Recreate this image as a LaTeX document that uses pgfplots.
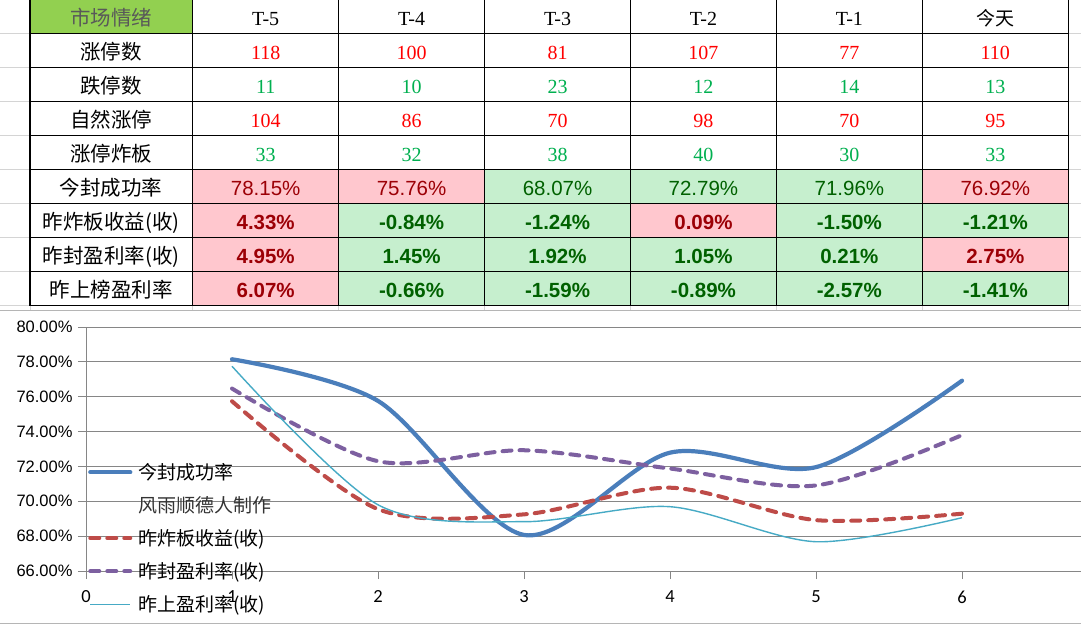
\documentclass[border=0pt]{standalone}
\usepackage{pgfplots}
\pgfplotsset{compat=1.18}
\usepackage{fontspec}
\setmainfont{Liberation Sans}
\newfontfamily\cjk{Noto Sans CJK SC}
\newfontfamily\serifn{Liberation Serif}
\newfontfamily\arial{Liberation Sans}
\newfontfamily\carlito{Carlito}
\definecolor{hdrgreen}{HTML}{92D050}
\definecolor{hdrtext}{HTML}{595959}
\definecolor{numred}{HTML}{FF0000}
\definecolor{numgreen}{HTML}{00B050}
\definecolor{pF}{HTML}{FFC7CE}
\definecolor{pT}{HTML}{9C0006}
\definecolor{gF}{HTML}{C6EFCE}
\definecolor{gT}{HTML}{006100}
\definecolor{sheetgrid}{HTML}{D4D4D4}
\definecolor{axgray}{HTML}{868686}
\definecolor{sblue}{HTML}{4A7EBB}
\definecolor{sred}{HTML}{BE4B48}
\definecolor{spurple}{HTML}{7D60A0}
\definecolor{steal}{HTML}{46AAC5}
\newcommand{\tcell}{\fontsize{20.5}{22}\selectfont}
\begin{document}
\begin{tikzpicture}
\useasboundingbox (0,0) rectangle (1081pt,-625pt);
\fill[white] (0,0) rectangle (1081pt,-625pt);
\begin{scope}
\clip (0,0) rectangle (1081pt,-625pt);
% spreadsheet grid outside the table
\foreach \y in {33.5,67.5,...,305.5}{
  \draw[sheetgrid, line width=1pt] (0,-\y pt) -- (30pt,-\y pt);
  \draw[sheetgrid, line width=1pt] (1068.3pt,-\y pt) -- (1081pt,-\y pt);
}
\foreach \x in {30,192.7,338.6,484.6,630.5,776.4,922.4,1068.3}
  \draw[sheetgrid, line width=1pt] (\x pt,-305.5pt) -- (\x pt,-310pt);
% header fill
\fill[hdrgreen] (30pt,0) rectangle (192.7pt,-33.5pt);
% conditional fills
\foreach \row/\list in {5/{p,p,g,g,g,p},6/{p,g,g,p,g,g},7/{p,g,g,g,g,p},8/{p,g,g,g,g,g}}{
  \foreach \cc [count=\i] in \list {
    \pgfmathsetmacro\xa{192.7+145.93*(\i-1)}
    \pgfmathsetmacro\xb{192.7+145.93*\i}
    \pgfmathsetmacro\ya{33.5+34*(\row-1)}
    \pgfmathsetmacro\yb{33.5+34*\row}
    \fill[\cc F] (\xa pt,-\ya pt) rectangle (\xb pt,-\yb pt);
  }
}
% borders
\foreach \y in {33.5,67.5,...,305.5}
  \draw[black, line width=1.3pt] (30pt,-\y pt) -- (1068.3pt,-\y pt);
\foreach \x in {30,192.7,338.6,484.6,630.5,776.4,922.4,1068.3}
  \draw[black, line width=1.3pt] (\x pt,0) -- (\x pt,-305.5pt);
% header row
\node[anchor=base, text=hdrtext, font=\cjk\tcell] at (111pt,-25pt) {市场情绪};
\foreach \h [count=\i] in {T-5,T-4,T-3,T-2,T-1}
  \node[anchor=base, font=\serifn\fontsize{20}{22}\selectfont] at ({(192.7+145.93*(\i-0.5))*1pt},-25pt) {\h};
\node[anchor=base, font=\cjk\fontsize{19}{22}\selectfont] at ({(192.7+145.93*5.5)*1pt},-25pt) {今天};
% row labels
\foreach \lab [count=\r] in {涨停数,跌停数,自然涨停,涨停炸板,今封成功率,昨炸板收益(收),昨封盈利率(收),昨上榜盈利率}
  \node[anchor=base, font=\cjk\tcell] at (111pt,{-(59.8+34*(\r-1))*1pt}) {\lab};
% count rows
\foreach \row/\col/\list in {1/numred/{118,100,81,107,77,110},2/numgreen/{11,10,23,12,14,13},3/numred/{104,86,70,98,70,95},4/numgreen/{33,32,38,40,30,33}}{
  \foreach \v [count=\i] in \list
    \node[anchor=base, text=\col, font=\serifn\fontsize{20}{22}\selectfont] at ({(192.7+145.93*(\i-0.5))*1pt},{-(59.8+34*(\row-1))*1pt}) {\v};
}
% percent rows
\foreach \v/\cc [count=\i] in {78.15/p,75.76/p,68.07/g,72.79/g,71.96/g,76.92/p}
  \node[anchor=base, text=\cc T, font=\arial\tcell] at ({(192.7+145.93*(\i-0.5))*1pt},{-(59.8+34*4)*1pt}) {\v\%};
\foreach \row/\list in {6/{4.33/p,-0.84/g,-1.24/g,0.09/p,-1.50/g,-1.21/g},7/{4.95/p,1.45/g,1.92/g,1.05/g,0.21/g,2.75/p},8/{6.07/p,-0.66/g,-1.59/g,-0.89/g,-2.57/g,-1.41/g}}{
  \foreach \v/\cc [count=\i] in \list
    \node[anchor=base, text=\cc T, font=\arial\bfseries\tcell] at ({(192.7+145.93*(\i-0.5))*1pt},{-(59.8+34*(\row-1))*1pt}) {\v\%};
}
% chart outer border
\draw[sheetgrid!60!axgray, line width=1pt] (0,-310pt) -- (1081pt,-310pt);
\draw[sheetgrid!60!axgray, line width=1pt] (0,-623.5pt) -- (1081pt,-623.5pt);
% chart
\begin{axis}[
  at={(86pt,-571pt)}, anchor=south west, scale only axis,
  width=995pt, height=244pt,
  xmin=0, xmax=6.815, ymin=66, ymax=80,
  axis x line*=bottom, axis y line*=left,
  axis line style={-, draw=axgray, line width=1pt},
  ymajorgrids, grid style={draw=axgray, line width=1pt},
  ytick={66,68,...,80}, xtick={0,...,6},
  tick align=outside, major tick length=8pt,
  tick style={draw=axgray, line width=1pt},
  yticklabel={\pgfmathprintnumber[assume math mode=true,fixed,fixed zerofill,precision=2]{\tick}\%},
  yticklabel style={font=\arial\fontsize{16.5}{18}\selectfont, text=black, anchor=east, xshift=-2pt},
  xticklabel={\pgfmathprintnumber[assume math mode=true]{\tick}},
  xticklabel style={font=\carlito\fontsize{18.5}{20}\selectfont, text=black, anchor=north, yshift=-8pt},
  legend image code/.code={\draw[#1] (0pt,0pt) -- (40pt,0pt);},
  legend style={at={(rel axis cs:0.002,0.4447)}, anchor=north west, draw=none, fill=none,
    inner sep=0pt, row sep=14pt, column sep=6pt,
    font=\cjk\fontsize{19}{19}\selectfont,
    nodes={inner sep=0pt, text height=16.7pt, text depth=2.3pt, anchor=west}},
  legend cell align=left,
]
\addplot[sblue, line width=4.2pt, line cap=round, smooth, tension=0.5] coordinates {
 (1,78.15) (2,75.76) (3,68.07) (4,72.79) (5,71.96) (6,76.92)};
\addlegendentry{今封成功率}
\addlegendimage{draw opacity=0, line width=0pt}
\addlegendentry{\textcolor{black!80}{风雨顺德人制作}}
\addplot[sred, line width=4pt, line cap=round, dash pattern=on 9pt off 8pt, smooth, tension=0.5] coordinates {
 (1,75.74) (2,69.55) (3,69.25) (4,70.78) (5,68.92) (6,69.29)};
\addlegendentry{昨炸板收益(收)}
\addplot[spurple, line width=4pt, line cap=round, dash pattern=on 9pt off 8pt, smooth, tension=0.5] coordinates {
 (1,76.47) (2,72.3) (3,72.93) (4,71.88) (5,70.91) (6,73.8)};
\addlegendentry{昨封盈利率(收)}
\addplot[steal, line width=1.4pt, smooth, tension=0.5] coordinates {
 (1,77.75) (2,69.8) (3,68.83) (4,69.69) (5,67.68) (6,69.06)};
\addlegendentry{昨上盈利率(收)}
\end{axis}
\end{scope}
\end{tikzpicture}
\end{document}
